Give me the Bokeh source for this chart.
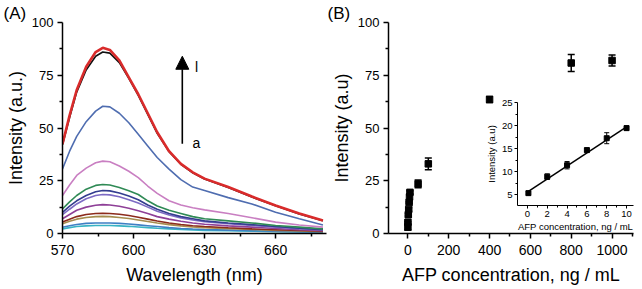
from bokeh.plotting import figure
from bokeh.models import (Range1d, FixedTicker, Arrow, NormalHead, Label, Whisker,
                          ColumnDataSource, GridBox, TeeHead)
from bokeh.embed import file_html
from bokeh.resources import INLINE

FONT = "Liberation Sans"

# ---------------- Panel A data: emission spectra a..l ----------------
wavelength = [570, 573, 576, 580, 584, 587, 590, 594, 598, 602, 606, 610, 615, 620, 625, 630, 640, 650, 660, 670, 680]
curve_a = [2.2, 2.8, 3.3, 3.6, 3.8, 3.8, 3.8, 3.6, 3.4, 3.1, 2.8, 2.5, 2.2, 1.9, 1.7, 1.5, 1.3, 1.1, 0.9, 0.7, 0.6]
curve_b = [3, 3.7, 4.3, 4.8, 5, 5, 5, 4.8, 4.5, 4.1, 3.7, 3.3, 2.8, 2.4, 2.1, 1.9, 1.6, 1.3, 1.1, 0.9, 0.7]
curve_c = [4.6, 5.8, 6.8, 7.6, 8, 8.1, 8, 7.6, 7.1, 6.4, 5.7, 5, 4.2, 3.6, 3.1, 2.8, 2.3, 1.9, 1.5, 1.2, 0.9]
curve_d = [5.4, 6.8, 8, 9, 9.5, 9.6, 9.5, 9.1, 8.5, 7.7, 6.8, 5.9, 5, 4.3, 3.7, 3.3, 2.7, 2.2, 1.8, 1.4, 1.1]
curve_e = [7, 9, 11, 12.5, 13.4, 13.7, 13.5, 12.9, 12, 10.8, 9.5, 8, 6.8, 5.8, 5, 4.4, 3.6, 3, 2.4, 1.8, 1.3]
curve_f = [8.9, 11.5, 14, 16.5, 18, 18.5, 18.3, 17.4, 16, 14.5, 12.5, 10.5, 8.8, 7.4, 6.4, 5.6, 4.6, 3.8, 3, 2.3, 1.7]
curve_g = [10, 13, 15.5, 18, 19.8, 20.4, 20.2, 19.2, 17.8, 16, 13.5, 11.5, 9.5, 8, 7, 6, 5, 4.2, 3.3, 2.5, 1.8]
curve_h = [11.7, 15, 18, 21, 22.8, 23.2, 23, 21.8, 20.3, 18.5, 15.5, 13, 11, 9.5, 8, 7, 6, 5, 3.8, 3, 2.2]
curve_i = [18, 23, 27.5, 31, 33.5, 34.3, 34, 32, 29.5, 26.5, 22.5, 19, 15.5, 13.5, 12.2, 11.2, 9.5, 7.5, 5.4, 4, 3]
curve_j = [30.6, 39, 46, 53, 58, 60.3, 60, 57, 52.5, 47, 41.5, 36, 30.5, 25.5, 22, 20.4, 17, 14, 10.1, 7, 4]
curve_k = [42, 55, 67, 77.5, 84, 86, 85.5, 81, 73.5, 65.5, 56.5, 47.5, 38.8, 32.8, 28.8, 25.8, 21.8, 17.3, 13.1, 9.3, 6.0]
curve_l = [42.5, 56, 68, 79, 86, 88, 87, 82, 74, 66, 57, 48, 39, 33, 29, 26, 22, 17.5, 13.3, 9.5, 6.2]

curves = [curve_a, curve_b, curve_c, curve_d, curve_e, curve_f,
          curve_g, curve_h, curve_i, curve_j, curve_k, curve_l]
curve_colors = ["#38b3c4", "#3f7fc4", "#a68d4f", "#8c2b1c", "#8e3f97", "#7d6bc4",
                "#343d8f", "#2f8a55", "#c97fc2", "#4f6db0", "#111111", "#d92b2b"]

a_xticks = [570, 600, 630, 660]
a_xminor = [585, 615, 645, 675]
a_yticks = [0, 25, 50, 75, 100]
a_yminor = [12.5, 37.5, 62.5, 87.5]

# arrow a -> l
arrow_x = 620.6
arrow_y0 = 42.5
arrow_y1 = 84.0

# ---------------- Panel B data ----------------
conc_low = [0, 0.1, 2, 4, 6, 8, 10]
int_low = [3.0, 5.3, 8.9, 11.4, 14.7, 17.3, 19.5]
err_low = [1.4, 0.4, 0.6, 0.8, 0.4, 1.2, 0.8]
conc_high = [50, 100, 400, 800, 1000]
int_high = [23.5, 33.0, 63.5, 80.8, 82.0]
err_high = [1.8, 2.8, 1.4, 4.0, 2.6]

b_xticks = [0, 200, 400, 600, 800, 1000]
b_xminor = [-100, 100, 300, 500, 700, 900, 1100]
b_yticks = [0, 25, 50, 75, 100]
b_yminor = [12.5, 37.5, 62.5, 87.5]

# inset
inset_conc = [0.1, 2, 4, 6, 8, 10]
inset_int = [5.3, 8.9, 11.4, 14.7, 17.3, 19.5]
inset_err = [0.4, 0.6, 0.8, 0.4, 1.2, 0.5]
fit_x = [0.1, 10]
fit_y = [5.7, 19.8]
i_xticks = [0, 2, 4, 6, 8, 10]
i_xminor = [1, 3, 5, 7, 9]
i_yticks = [5, 10, 15, 20, 25]
i_yminor = [7.5, 12.5, 17.5, 22.5]


def style_axes(p, xt, xm, yt, ym, xfs, yfs, lfs, tick_out=5, minor_out=3, lw=1.5,
               xstand=6, ystand=4, xlstand=7, ylstand=3):
    p.xgrid.visible = False
    p.ygrid.visible = False
    p.outline_line_color = None
    p.xaxis.ticker = FixedTicker(ticks=xt, minor_ticks=xm)
    p.yaxis.ticker = FixedTicker(ticks=yt, minor_ticks=ym)
    for ax, fs, st, lst in ((p.xaxis[0], xfs, xstand, xlstand), (p.yaxis[0], yfs, ystand, ylstand)):
        ax.axis_line_color = "black"
        ax.axis_line_width = lw
        ax.major_tick_line_color = "black"
        ax.major_tick_line_width = lw
        ax.minor_tick_line_color = "black"
        ax.minor_tick_line_width = lw
        ax.major_tick_out = tick_out
        ax.major_tick_in = 0
        ax.minor_tick_out = minor_out
        ax.minor_tick_in = 0
        ax.major_label_text_font = FONT
        ax.major_label_text_font_size = fs
        ax.major_label_text_color = "black"
        ax.major_label_standoff = st
        ax.axis_label_text_font = FONT
        ax.axis_label_text_font_size = lfs
        ax.axis_label_text_font_style = "normal"
        ax.axis_label_text_color = "black"
        ax.axis_label_standoff = lst


def panel_tag(p, text, shift):
    p.title.text = text
    p.title.align = "left"
    p.title.offset = shift
    p.title.standoff = 0
    p.title.text_font = FONT
    p.title.text_font_size = "17px"
    p.title.text_font_style = "normal"
    p.title.text_color = "black"


# ---------------- Panel A ----------------
pA = figure(width=328, height=289, output_backend="svg", toolbar_location=None,
            x_range=Range1d(570, 681.5), y_range=Range1d(0, 100),
            min_border_left=62, min_border_right=2, min_border_top=22, min_border_bottom=56)
for ys, col in zip(curves, curve_colors):
    lw = 2.6 if col == "#d92b2b" else 1.6
    pA.line(wavelength, ys, line_color=col, line_width=lw)
pA.xaxis.axis_label = "Wavelength (nm)"
pA.yaxis.axis_label = "Intensity (a.u.)"
style_axes(pA, a_xticks, a_xminor, a_yticks, a_yminor, "14px", "13px", "18px")
pA.add_layout(Arrow(end=NormalHead(size=13, fill_color="black", line_color="black"),
                    x_start=arrow_x, y_start=arrow_y0, x_end=arrow_x, y_end=arrow_y1,
                    line_width=1.6, line_color="black"))
pA.add_layout(Label(x=arrow_x + 6, y=79, text="l", text_font=FONT, text_font_size="14px",
                    text_color="black", text_baseline="middle", text_align="center"))
pA.add_layout(Label(x=arrow_x + 6, y=43, text="a", text_font=FONT, text_font_size="14px",
                    text_color="black", text_baseline="middle", text_align="center"))
panel_tag(pA, "(A)", -59)

# ---------------- Panel B ----------------
pB = figure(width=314, height=289, output_backend="svg", toolbar_location=None,
            x_range=Range1d(-95, 1105), y_range=Range1d(0, 100),
            min_border_left=55, min_border_right=5, min_border_top=22, min_border_bottom=56)
src_low = ColumnDataSource(dict(x=conc_low, y=int_low,
                                lo=[v - e for v, e in zip(int_low, err_low)],
                                hi=[v + e for v, e in zip(int_low, err_low)]))
src_high = ColumnDataSource(dict(x=conc_high, y=int_high,
                                 lo=[v - e for v, e in zip(int_high, err_high)],
                                 hi=[v + e for v, e in zip(int_high, err_high)]))
for s in (src_low, src_high):
    pB.add_layout(Whisker(source=s, base="x", lower="lo", upper="hi", line_color="black",
                          line_width=1.5,
                          upper_head=TeeHead(size=7, line_color="black", line_width=1.5),
                          lower_head=TeeHead(size=7, line_color="black", line_width=1.5)))
    pB.scatter("x", "y", source=s, marker="square", size=6.5, fill_color="black", line_color="black")
pB.xaxis.axis_label = "AFP concentration, ng / mL"
pB.yaxis.axis_label = "Intensity (a.u)"
style_axes(pB, b_xticks, b_xminor, b_yticks, b_yminor, "14px", "13px", "18px")
panel_tag(pB, "(B)", -61)

# ---------------- Inset ----------------
pI = figure(width=160, height=138, output_backend="svg", toolbar_location=None,
            x_range=Range1d(-1, 10.7), y_range=Range1d(2.6, 25.1),
            min_border_left=30, min_border_right=9, min_border_top=6, min_border_bottom=27,
            background_fill_alpha=0, border_fill_alpha=0)
pI.line(fit_x, fit_y, line_color="black", line_width=1.5)
src_in = ColumnDataSource(dict(x=inset_conc, y=inset_int,
                               lo=[v - e for v, e in zip(inset_int, inset_err)],
                               hi=[v + e for v, e in zip(inset_int, inset_err)]))
pI.add_layout(Whisker(source=src_in, base="x", lower="lo", upper="hi", line_color="black",
                      line_width=1,
                      upper_head=TeeHead(size=5, line_color="black", line_width=1),
                      lower_head=TeeHead(size=5, line_color="black", line_width=1)))
pI.scatter("x", "y", source=src_in, marker="square", size=5, fill_color="black", line_color="black")
pI.xaxis.axis_label = "AFP concentration, ng / mL"
pI.yaxis.axis_label = "Intensity (a.u)"
style_axes(pI, i_xticks, i_xminor, i_yticks, i_yminor, "9.5px", "9.5px", "9.5px",
           tick_out=3, minor_out=2, lw=1, xstand=2, ystand=2, xlstand=1, ylstand=2)

layout = GridBox(children=[(pA, 0, 0, 3, 1), (pB, 0, 1, 3, 2), (pI, 1, 2, 1, 1)],
                 rows=["96px", "138px", "55px"], cols=["328px", "154px", "160px"])

open("out.html", "w").write(file_html(layout, INLINE))
